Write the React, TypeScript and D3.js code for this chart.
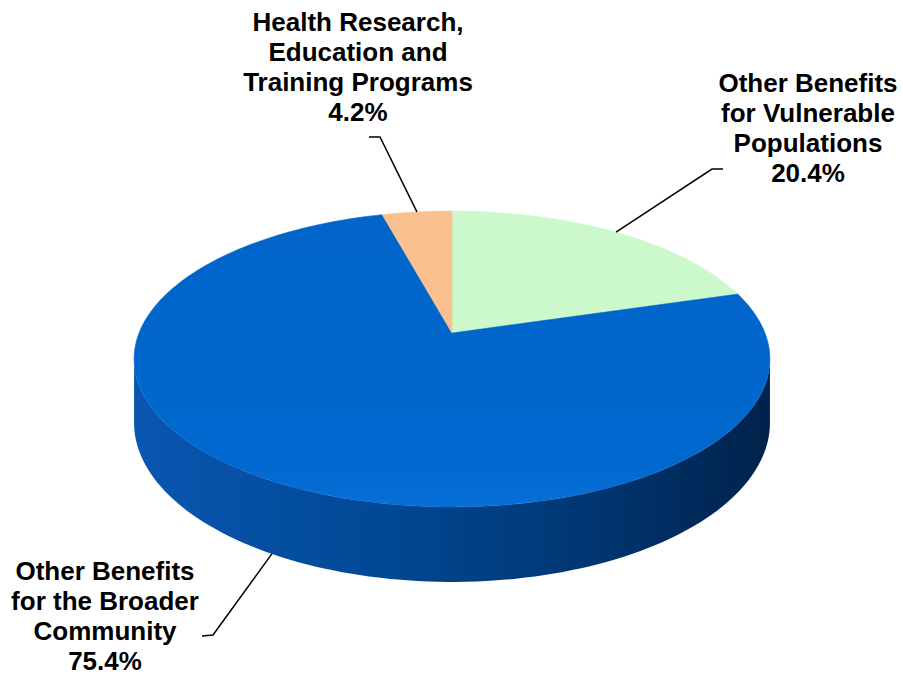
import React from 'react';
import * as d3 from 'd3';

// slice data, clockwise from 12 o'clock
const categories = [
  'Other Benefits for Vulnerable Populations',
  'Other Benefits for the Broader Community',
  'Health Research, Education and Training Programs',
];
const values = [20.4, 75.4, 4.2];
const labelLines = [
  ['Other Benefits', 'for Vulnerable', 'Populations', '20.4%'],
  ['Other Benefits', 'for the Broader', 'Community', '75.4%'],
  ['Health Research,', 'Education and', 'Training Programs', '4.2%'],
];
const topColors = ['#CCF9CC', '#0066CC', '#FAC090'];

// label placement (text centre, first baseline, elbow of leader, tick direction)
const labelPos = [
  { x: 808, y: 92, ex: 712, ey: 169, dir: 1 },
  { x: 105, y: 580, ex: 213, ey: 635, dir: -1 },
  { x: 358, y: 31, ex: 380, ey: 137, dir: -1 },
];

const W = 903;
const H = 683;
// perspective projection of the disc
const CX = 452;
const CY = 333;
const A = 313;
const B = 143.4;
const K = 0.1756;
const DEPTH = 61.8;

const proj = (t: number, drop = 0): [number, number] => {
  const u = Math.sin(t);
  const v = Math.cos(t);
  const w = 1 + K * v;
  return [CX + (A * u) / w, CY - (B * v) / w + (drop * DEPTH) / w];
};

const sample = (a0: number, a1: number, drop = 0) => {
  const n = Math.max(2, Math.ceil(((a1 - a0) / (Math.PI * 2)) * 240));
  return d3.range(n + 1).map((i) => proj(a0 + ((a1 - a0) * i) / n, drop));
};

const App = () => {
  const pie = d3.pie<number>().sort(null).value((d) => d);
  const arcs = pie(values);
  const line = d3.line();

  // visible front wall lies where cos(t) < -K
  const tL = Math.acos(-K);
  const tR = Math.PI * 2 - tL;

  const walls = arcs
    .map((a, i) => {
      const s = Math.max(a.startAngle, tL);
      const e = Math.min(a.endAngle, tR);
      if (e <= s) return null;
      const top = sample(s, e, 0);
      const bot = sample(s, e, 1).reverse();
      return { i, d: line([...top, ...bot])! + 'Z' };
    })
    .filter(Boolean) as { i: number; d: string }[];

  const tops = arcs.map((a, i) => {
    const pts = [[CX, CY] as [number, number], ...sample(a.startAngle, a.endAngle, 0)];
    return { i, d: line(pts)! + 'Z' };
  });

  const leaders = arcs.map((a, i) => {
    const mid = (a.startAngle + a.endAngle) / 2;
    const drop = Math.cos(mid) < -K ? 1 : 0;
    const p0 = proj(mid, drop);
    const lp = labelPos[i];
    return line([p0, [lp.ex, lp.ey], [lp.ex + lp.dir * 11, lp.ey + (drop ? 1 : 0)]])!;
  });

  return (
    <svg
      width={W}
      height={H}
      style={{ position: 'absolute', left: 0, top: 0, background: '#fff' }}
      fontFamily="'Liberation Sans', Arial, sans-serif"
    >
      <defs>
        <linearGradient id="wall" x1={CX - A - 6} x2={CX + A + 6} y1={0} y2={0} gradientUnits="userSpaceOnUse">
          <stop offset="0" stopColor="#0a57b2" />
          <stop offset="0.4" stopColor="#004893" />
          <stop offset="0.72" stopColor="#003672" />
          <stop offset="1" stopColor="#00224a" />
        </linearGradient>
        <linearGradient id="topBlue" x1={0} x2={0} y1={CY - B} y2={CY + 180} gradientUnits="userSpaceOnUse">
          <stop offset="0" stopColor="#0064c8" />
          <stop offset="0.85" stopColor="#0068cf" />
          <stop offset="1" stopColor="#0b70da" />
        </linearGradient>
      </defs>
      {walls.map((w) => (
        <path key={'w' + w.i} d={w.d} fill="url(#wall)" />
      ))}
      {tops.map((t) => (
        <path
          key={'t' + t.i}
          d={t.d}
          fill={t.i === 1 ? 'url(#topBlue)' : topColors[t.i]}
          stroke={topColors[t.i]}
          strokeWidth={0.5}
        >
          <title>{categories[t.i]}</title>
        </path>
      ))}
      {leaders.map((d, i) => (
        <path key={'l' + i} d={d} fill="none" stroke="#000" strokeWidth={1.5} />
      ))}
      {labelLines.map((lines, i) => (
        <text
          key={'x' + i}
          x={labelPos[i].x}
          y={labelPos[i].y}
          textAnchor="middle"
          fontSize={26}
          fontWeight="bold"
          fill="#000"
        >
          {lines.map((s, j) => (
            <tspan key={j} x={labelPos[i].x} y={labelPos[i].y + j * 30}>
              {s}
            </tspan>
          ))}
        </text>
      ))}
    </svg>
  );
};

export default App;
